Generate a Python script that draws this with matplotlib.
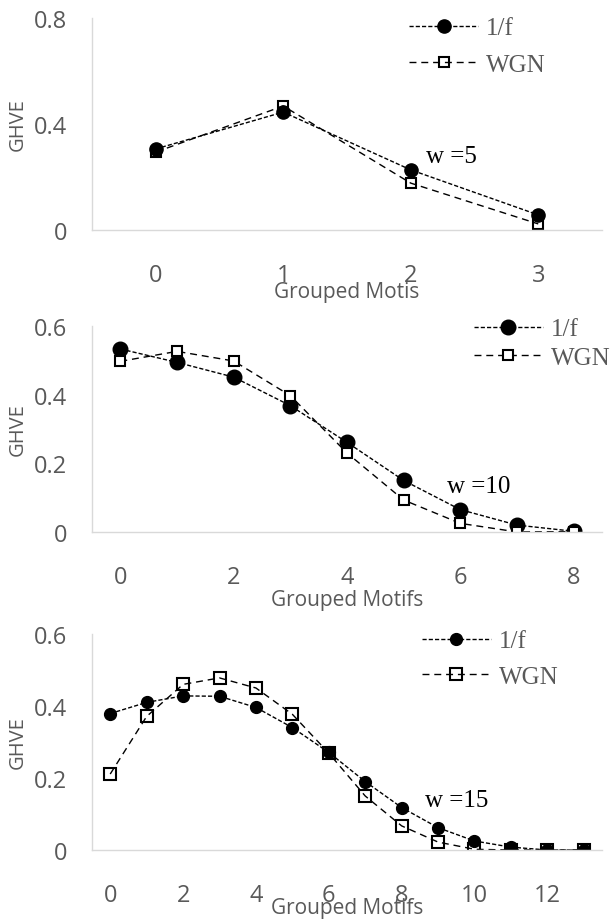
import matplotlib

matplotlib.use("Agg")
import matplotlib.pyplot as plt

plt.rcParams["font.family"] = ["Open Sans", "DejaVu Sans"]

GRAY_TEXT = "#595959"
GRAY_AXIS = "#d9d9d9"
SERIF = ["Liberation Serif", "DejaVu Serif"]

# w = 5
motifs_w5 = [0, 1, 2, 3]
pink_w5 = [0.306, 0.445, 0.227, 0.057]
wgn_w5 = [0.294, 0.468, 0.177, 0.023]
xticks_w5 = [0, 1, 2, 3]
yticks_w5 = [0, 0.4, 0.8]
ylabels_w5 = ["0", "0.4", "0.8"]

# w = 10
motifs_w10 = [0, 1, 2, 3, 4, 5, 6, 7, 8]
pink_w10 = [0.533, 0.494, 0.451, 0.368, 0.261, 0.150, 0.065, 0.020, 0.002]
wgn_w10 = [0.497, 0.526, 0.498, 0.397, 0.230, 0.093, 0.025, 0.000, 0.001]
xticks_w10 = [0, 2, 4, 6, 8]

# w = 15
motifs_w15 = list(range(14))
pink_w15 = [0.379, 0.410, 0.428, 0.427, 0.396, 0.340, 0.271, 0.190, 0.118,
            0.062, 0.025, 0.008, 0.0, 0.0]
wgn_w15 = [0.211, 0.371, 0.460, 0.478, 0.450, 0.377, 0.269, 0.150, 0.067,
           0.022, 0.002, 0.0, 0.0, 0.0]
xticks_w15 = [0, 2, 4, 6, 8, 10, 12]

yticks_06 = [0, 0.2, 0.4, 0.6]
ylabels_06 = ["0", "0.2", "0.4", "0.6"]

series_names = ["1/f", "WGN"]


def draw_panel(ax, x, pink, wgn, xticks, yticks, ylabels, ymax, xlabel,
               xlabel_y, w_text, w_pos, legend_anchor, label_spacing,
               circle_size, square_size, square_face):
    ax.plot(x, pink, color="black", lw=1.0, dashes=(3, 1.5), marker="o",
            ms=circle_size, mfc="black", mec="black", label=series_names[0])
    ax.plot(x, wgn, color="black", lw=1.0, dashes=(5, 3.5), marker="s",
            ms=square_size, mfc=square_face, mec="black", mew=1.5,
            label=series_names[1])

    ax.set_xlim(x[0] - 0.5, x[-1] + 0.5)
    ax.set_ylim(0, ymax)
    ax.set_xticks(xticks)
    ax.set_yticks(yticks)
    ax.set_yticklabels(ylabels)
    ax.tick_params(axis="both", length=0, labelsize=17, colors=GRAY_TEXT)
    ax.tick_params(axis="x", pad=24)
    ax.tick_params(axis="y", pad=18)

    for side in ["top", "right"]:
        ax.spines[side].set_visible(False)
    for side in ["left", "bottom"]:
        ax.spines[side].set_color(GRAY_AXIS)
        ax.spines[side].set_linewidth(1.0)

    ax.set_xlabel(xlabel, fontsize=15, color=GRAY_TEXT)
    ax.xaxis.set_label_coords(0.5, xlabel_y)
    ax.xaxis.label.set_va("center")
    ax.set_ylabel("GHVE", fontsize=14.5, color=GRAY_TEXT)
    ax.yaxis.set_label_coords(-0.145, 0.5)
    ax.yaxis.label.set_va("center")

    ax.text(w_pos[0], w_pos[1], w_text, family=SERIF, fontsize=18,
            color="black", ha="left", va="center")

    ax.legend(loc="upper left", bbox_to_anchor=legend_anchor, frameon=False,
              prop={"family": SERIF, "size": 18}, labelcolor=GRAY_TEXT,
              handlelength=2.76, handletextpad=0.32, borderpad=0,
              borderaxespad=0, labelspacing=label_spacing)


def main():
    fig = plt.figure(figsize=(6.11, 9.2), dpi=100)
    left, width = 92 / 611, 510 / 611

    ax1 = fig.add_axes([left, 0.7489, width, 0.2304])
    draw_panel(ax1, motifs_w5, pink_w5, wgn_w5, xticks_w5, yticks_w5,
               ylabels_w5, 0.8, "Grouped Motis", -0.288, "w =5",
               (2.12, 0.279), (0.6216, 1.005), 0.56, 9.5, 7.5, "none")

    ax2 = fig.add_axes([left, 0.4207, width, 0.2239])
    draw_panel(ax2, motifs_w10, pink_w10, wgn_w10, xticks_w10, yticks_06,
               ylabels_06, 0.6, "Grouped Motifs", -0.330, "w =10",
               (5.76, 0.134), (0.749, 1.039), 0.24, 10.5, 6.5, "white")

    ax3 = fig.add_axes([left, 0.075, width, 0.2348])
    draw_panel(ax3, motifs_w15, pink_w15, wgn_w15, xticks_w15, yticks_06,
               ylabels_06, 0.6, "Grouped Motifs", -0.264, "w =15",
               (8.64, 0.138), (0.647, 1.019), 0.52, 8.5, 8, "none")

    fig.savefig("out.png", dpi=100)
    plt.close(fig)


if __name__ == "__main__":
    main()
